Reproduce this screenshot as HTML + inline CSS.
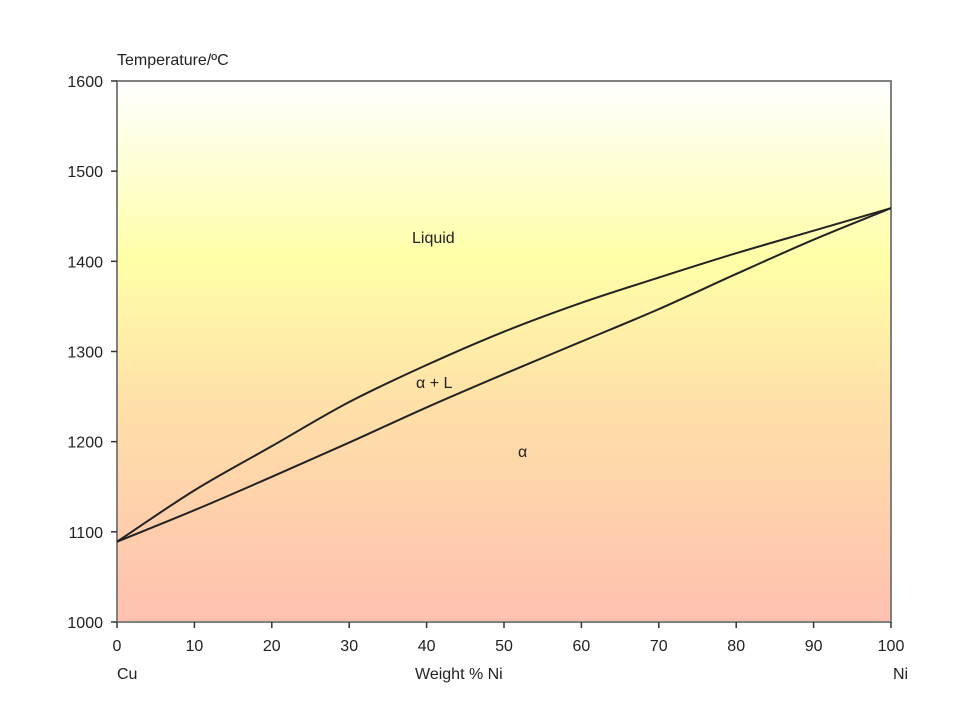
<!DOCTYPE html>
<html><head><meta charset="utf-8"><style>
html,body{margin:0;padding:0;background:#fff;}
svg{display:block;font-family:"Liberation Sans",sans-serif;}
</style></head><body>
<svg id="chart" width="960" height="720">
<defs>
<linearGradient id="bg" x1="0" y1="0" x2="0" y2="1">
<stop offset="0" stop-color="#ffffff"/>
<stop offset="0.33" stop-color="#ffffa8"/>
<stop offset="0.6" stop-color="#ffe0a8"/>
<stop offset="1" stop-color="#ffc0b0"/>
</linearGradient>
</defs>
</svg>
<script>
const xTicks=[0,10,20,30,40,50,60,70,80,90,100];
const yTicks=[1000,1100,1200,1300,1400,1500,1600];
const composition=[0,10,20,30,40,50,60,70,80,90,100];
const liquidus=[1089,1146,1195,1244,1285,1322,1354,1382,1409,1434,1459];
const solidus=[1089,1124,1161,1199,1238,1275,1311,1347,1386,1424,1459];
const W=document.getElementById('chart');
const NS='http://www.w3.org/2000/svg';
const L=117,R=891,T=81,B=622;
const xs=v=>L+(v-0)/(100)*(R-L);
const ys=v=>B-(v-1000)/(600)*(B-T);
function mk(tag,attrs,parent){const e=document.createElementNS(NS,tag);for(const k in attrs)e.setAttribute(k,attrs[k]);(parent||W).appendChild(e);return e;}
const bg=mk('rect',{x:L,y:T,width:R-L,height:B-T,fill:'url(#bg)',stroke:'#808080','stroke-width':2});


xTicks.forEach(v=>{
 const t=mk('line',{x1:xs(v),x2:xs(v),y1:B,y2:B+6,stroke:'#333','stroke-width':1.5});
 
 
 const tx=mk('text',{x:xs(v),y:B+29,'text-anchor':'middle','font-size':16,fill:'#222'});
 tx.textContent=v;
 
 
});
yTicks.forEach(v=>{
 const t=mk('line',{x1:L-6,x2:L,y1:ys(v),y2:ys(v),stroke:'#333','stroke-width':1.5});
 
 
 const tx=mk('text',{x:L-14,y:ys(v)+6,'text-anchor':'end','font-size':16,fill:'#222'});
 tx.textContent=v;
 
 
});
function curve(arr){
 const p=composition.map((c,i)=>[xs(c),ys(arr[i])]);
 const n=p.length;
 const d0=[];for(let i=0;i<n-1;i++)d0.push((p[i+1][1]-p[i][1])/(p[i+1][0]-p[i][0]));
 const m=[];m[0]=d0[0];m[n-1]=d0[n-2];
 for(let i=1;i<n-1;i++){m[i]=(d0[i-1]*d0[i]<=0)?0:(d0[i-1]+d0[i])/2;}
 let d='M'+p[0][0]+','+p[0][1];
 for(let i=0;i<n-1;i++){
  const h=(p[i+1][0]-p[i][0])/3;
  d+=' C'+(p[i][0]+h)+','+(p[i][1]+m[i]*h)+' '+(p[i+1][0]-h)+','+(p[i+1][1]-m[i+1]*h)+' '+p[i+1][0]+','+p[i+1][1];
 }
 return d;
}
const lq=mk('path',{d:curve(liquidus),fill:'none',stroke:'#222','stroke-width':2});


const sd=mk('path',{d:curve(solidus),fill:'none',stroke:'#222','stroke-width':2});


function label(txt,x,y,name,anchor){
 const t=mk('text',{x:x,y:y,'font-size':16,fill:'#222','text-anchor':anchor||'start'});
 t.textContent=txt;
 
 
}
label('Temperature/ºC',117,65,'y-axis-title');
label('Liquid',412,243,'liquid-region-label');
label('α + L',416,388,'alpha-liquid-region-label');
label('α',518,457,'alpha-region-label');
label('Cu',117,679,'cu-label');
label('Weight %  Ni',415,679,'x-axis-title');
label('Ni',893,679,'ni-label');
</script>
</body></html>
